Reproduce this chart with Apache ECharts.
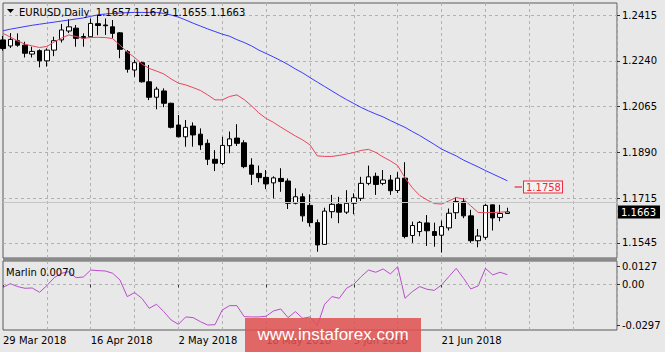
<!DOCTYPE html>
<html><head><meta charset="utf-8">
<script src="https://cdn.jsdelivr.net/npm/echarts@6/dist/echarts.min.js"></script>
<style>html,body{margin:0;padding:0;background:#e8e8e8;}#c{width:665px;height:352px;}</style>
</head><body><div id="c"></div>
<script>
const dates = ['29 Mar 2018','30 Mar 2018','2 Apr 2018','3 Apr 2018','4 Apr 2018','5 Apr 2018','6 Apr 2018','9 Apr 2018','10 Apr 2018','11 Apr 2018',
'12 Apr 2018','13 Apr 2018','16 Apr 2018','17 Apr 2018','18 Apr 2018','19 Apr 2018','20 Apr 2018','23 Apr 2018','24 Apr 2018','25 Apr 2018',
'26 Apr 2018','27 Apr 2018','30 Apr 2018','1 May 2018','2 May 2018','3 May 2018','4 May 2018','7 May 2018','8 May 2018','9 May 2018',
'10 May 2018','11 May 2018','14 May 2018','15 May 2018','16 May 2018','17 May 2018','18 May 2018','21 May 2018','22 May 2018','23 May 2018',
'24 May 2018','25 May 2018','28 May 2018','29 May 2018','30 May 2018','31 May 2018','1 Jun 2018','4 Jun 2018','5 Jun 2018','6 Jun 2018',
'7 Jun 2018','8 Jun 2018','11 Jun 2018','12 Jun 2018','13 Jun 2018','14 Jun 2018','15 Jun 2018','18 Jun 2018','19 Jun 2018','20 Jun 2018',
'21 Jun 2018','22 Jun 2018','25 Jun 2018','26 Jun 2018','27 Jun 2018','28 Jun 2018','29 Jun 2018','2 Jul 2018','3 Jul 2018','4 Jul 2018'];

const open = [1.2320,1.2297,1.2317,1.2300,1.2266,1.2279,1.2240,1.2281,1.2320,1.2354,
1.2365,1.2333,1.2332,1.2382,1.2377,1.2370,1.2347,1.2275,1.2205,1.2233,
1.2160,1.2101,1.2125,1.2078,1.1995,1.1950,1.1991,1.1960,1.1925,1.1864,
1.1848,1.1916,1.1945,1.1927,1.1842,1.1810,1.1795,1.1774,1.1791,1.1781,
1.1696,1.1721,1.1688,1.1622,1.1539,1.1664,1.1692,1.1662,1.1696,1.1715,
1.1772,1.1799,1.1772,1.1785,1.1745,1.1792,1.1573,1.1588,1.1621,1.1588,
1.1574,1.1602,1.1660,1.1702,1.1648,1.1553,1.1566,1.1690,1.1642,1.1657];
const high = [1.2335,1.2346,1.2345,1.2313,1.2294,1.2284,1.2288,1.2332,1.2381,1.2399,
1.2377,1.2345,1.2402,1.2415,1.2402,1.2396,1.2350,1.2281,1.2243,1.2237,
1.2224,1.2141,1.2135,1.2080,1.2033,1.2014,1.2005,1.1982,1.1940,1.1899,
1.1950,1.1970,1.1998,1.1937,1.1868,1.1840,1.1823,1.1799,1.1830,1.1791,
1.1753,1.1734,1.1730,1.1634,1.1679,1.1728,1.1721,1.1746,1.1734,1.1797,
1.1840,1.1813,1.1823,1.1804,1.1815,1.1853,1.1626,1.1628,1.1651,1.1622,
1.1630,1.1676,1.1719,1.1716,1.1671,1.1598,1.1693,1.1691,1.1690,1.1679];
const low = [1.2279,1.2289,1.2294,1.2253,1.2253,1.2215,1.2218,1.2258,1.2310,1.2346,
1.2294,1.2294,1.2330,1.2338,1.2339,1.2326,1.2250,1.2195,1.2179,1.2157,
1.2090,1.2055,1.2063,1.1982,1.1948,1.1912,1.1912,1.1900,1.1842,1.1819,
1.1842,1.1887,1.1915,1.1830,1.1766,1.1776,1.1750,1.1715,1.1740,1.1674,
1.1692,1.1626,1.1607,1.1511,1.1537,1.1639,1.1620,1.1655,1.1654,1.1705,
1.1765,1.1728,1.1765,1.1728,1.1735,1.1562,1.1545,1.1570,1.1533,1.1530,
1.1508,1.1592,1.1636,1.1639,1.1545,1.1528,1.1557,1.1592,1.1627,1.1655];
const close = [1.2287,1.2322,1.2300,1.2269,1.2276,1.2240,1.2281,1.2317,1.2358,1.2370,
1.2326,1.2327,1.2383,1.2375,1.2374,1.2345,1.2284,1.2208,1.2233,1.2160,
1.2101,1.2132,1.2078,1.1986,1.1950,1.1986,1.1957,1.1919,1.1864,1.1849,
1.1917,1.1942,1.1925,1.1836,1.1807,1.1794,1.1770,1.1793,1.1779,1.1696,
1.1721,1.1648,1.1622,1.1537,1.1666,1.1692,1.1662,1.1696,1.1717,1.1772,
1.1797,1.1768,1.1785,1.1744,1.1792,1.1569,1.1611,1.1623,1.1591,1.1573,
1.1607,1.1658,1.1703,1.1648,1.1553,1.1571,1.1688,1.1640,1.1657,1.1663];

const maFast = [1.2345,1.2331,1.2316,1.2304,1.2297,1.2291,1.2295,1.2312,1.2327,1.2339,
1.2333,1.2326,1.2329,1.2330,1.2329,1.2325,1.2300,1.2274,1.2253,1.2228,
1.2211,1.2201,1.2190,1.2171,1.2155,1.2148,1.2138,1.2127,1.2110,1.2091,
1.2091,1.2104,1.2110,1.2092,1.2068,1.2041,1.2020,1.2005,1.1987,1.1970,
1.1953,1.1938,1.1919,1.1877,1.1875,1.1875,1.1879,1.1884,1.1890,1.1898,
1.1902,1.1890,1.1873,1.1858,1.1840,1.1793,1.1755,1.1726,1.1709,1.1695,
1.1693,1.1705,1.1718,1.1712,1.1686,1.1661,1.1660,1.1661,1.1662,1.1664];
const maSlow = [1.2355,1.2361,1.2366,1.2371,1.2376,1.2380,1.2384,1.2388,1.2392,1.2396,
1.2400,1.2404,1.2410,1.2416,1.2419,1.2421,1.2423,1.2424,1.2425,1.2425,
1.2425,1.2425,1.2421,1.2415,1.2407,1.2396,1.2384,1.2373,1.2362,1.2352,
1.2342,1.2334,1.2321,1.2310,1.2297,1.2281,1.2268,1.2255,1.2241,1.2226,
1.2209,1.2194,1.2176,1.2159,1.2142,1.2125,1.2108,1.2092,1.2077,1.2062,
1.2049,1.2037,1.2026,1.2012,1.1999,1.1986,1.1970,1.1955,1.1938,1.1921,
1.1903,1.1890,1.1877,1.1861,1.1848,1.1835,1.1821,1.1808,1.1795,1.1782];
const marlin = [-0.0021,0.0005,-0.0016,-0.0028,-0.0026,-0.0057,-0.0009,0.0048,0.0080,0.0091,
0.0048,0.0053,0.0103,0.0099,0.0096,0.0080,0.0032,-0.0088,-0.0059,-0.0100,
-0.0172,-0.0143,-0.0196,-0.0256,-0.0287,-0.0234,-0.0239,-0.0268,-0.0292,-0.0290,
-0.0184,-0.0153,-0.0153,-0.0232,-0.0234,-0.0234,-0.0229,-0.0191,-0.0177,-0.0239,
-0.0196,-0.0244,-0.0234,-0.0297,-0.0143,-0.0088,-0.0100,-0.0028,0.0001,0.0056,
0.0103,0.0087,0.0111,0.0075,0.0127,-0.0100,-0.0052,-0.0016,-0.0035,-0.0043,
-0.0004,0.0056,0.0115,0.0044,-0.0033,-0.0011,0.0115,0.0068,0.0087,0.0070];

const priceTicks = [1.2415, 1.2240, 1.2065, 1.1890, 1.1715, 1.1545];
const marlinTicks = [0.0127, 0, -0.0297];
const lastPrice = 1.1663;
const levelPrice = 1.1758;
const titleText = 'EURUSD,Daily  1.1657 1.1679 1.1655 1.1663';
const marlinText = 'Marlin 0.0070';
const watermark = 'www.instaforex.com';
const emptySlots = 15;

const N = dates.length;
const slots = dates.concat(Array.from({length: emptySlots}, (_, i) => 'pad' + i));
const candles = dates.map((d, i) => [open[i], close[i], low[i], high[i]]);
const FONT = 'DejaVu Sans';
const gridColor = '#b2b2b2';
const vSplit = { show: true, interval: (i) => i > 0 && i % 6 === 0, lineStyle: { color: gridColor, type: [3, 3], width: 1 } };

const chart = echarts.init(document.getElementById('c'), null, { renderer: 'svg' });
chart.setOption({
  animation: false,
  backgroundColor: '#e8e8e8',
  textStyle: { fontFamily: FONT },
  grid: [
    { left: 3, right: 48, top: 3, height: 255, show: true, borderColor: '#5a5a5a', borderWidth: 1 },
    { left: 3, right: 48, top: 261, height: 69, show: true, borderColor: '#5a5a5a', borderWidth: 1 }
  ],
  xAxis: [
    { type: 'category', gridIndex: 0, data: slots, boundaryGap: false,
      axisLine: { show: false }, axisTick: { show: false }, axisLabel: { show: false }, splitLine: vSplit },
    { type: 'category', gridIndex: 1, data: slots, boundaryGap: false,
      axisLine: { show: false },
      axisTick: { show: true, interval: (i) => i < N && i % 12 === 0, length: 3, lineStyle: { color: '#333' } },
      axisLabel: { interval: (i) => i < N && i % 12 === 0, align: 'left', margin: 5, color: '#000', fontSize: 10, fontFamily: FONT },
      splitLine: vSplit }
  ],
  yAxis: [
    { type: 'value', gridIndex: 0, position: 'right', min: 1.1487, max: 1.2461, scale: true,
      axisLine: { show: false },
      axisTick: { show: true, customValues: priceTicks, length: 3, lineStyle: { color: '#333' } },
      axisLabel: { customValues: priceTicks.concat([lastPrice]), margin: 1, fontSize: 10, fontFamily: FONT,
        formatter: (v) => v === lastPrice ? '{cur|' + v.toFixed(4) + '}' : '{n|' + v.toFixed(4) + '}',
        rich: {
          n: { color: '#000', fontSize: 10, fontFamily: FONT, padding: [0, 0, 0, 4] },
          cur: { color: '#fff', backgroundColor: '#000', fontSize: 10, fontFamily: FONT, padding: [2, 4, 1, 3] }
        } },
      splitLine: { show: true, lineStyle: { color: gridColor, type: [3, 3], width: 1 } } },
    { type: 'value', gridIndex: 1, position: 'right', min: -0.0328, max: 0.0168,
      axisLine: { show: false },
      axisTick: { show: true, customValues: marlinTicks, length: 3, lineStyle: { color: '#333' } },
      axisLabel: { customValues: marlinTicks, formatter: (v) => v === 0 ? '0.00' : v.toFixed(4), margin: 5, color: '#000', fontSize: 10, fontFamily: FONT },
      splitLine: { show: false } }
  ],
  series: [
    { type: 'candlestick', xAxisIndex: 0, yAxisIndex: 0, data: candles, barWidth: 5,
      itemStyle: { color: '#ffffff', color0: '#000000', borderColor: '#000000', borderColor0: '#000000', borderWidth: 1 },
      markLine: { silent: true, symbol: ['none', 'none'], animation: false,
        data: [
          { yAxis: lastPrice, lineStyle: { color: '#c4c4c4', type: 'solid', width: 1 }, label: { show: false } },
          [ { coord: [slots[N], levelPrice], lineStyle: { color: '#f07080', width: 2, type: 'solid' },
              label: { show: true, position: 'end', distance: 2, verticalAlign: 'middle', formatter: () => levelPrice.toFixed(4), color: '#ee2a3a', backgroundColor: '#f2f2f2', borderColor: '#ee2a3a', borderWidth: 1, padding: [1, 1, 0, 2], fontSize: 10, fontFamily: FONT } },
            { coord: [slots[N + 1], levelPrice] } ]
        ] } },
    { type: 'line', xAxisIndex: 0, yAxisIndex: 0, data: maFast, symbol: 'none', lineStyle: { color: '#e8465e', width: 1 }, z: 3 },
    { type: 'line', xAxisIndex: 0, yAxisIndex: 0, data: maSlow, symbol: 'none', lineStyle: { color: '#3a3aff', width: 1 }, z: 3 },
    { type: 'line', xAxisIndex: 1, yAxisIndex: 1, data: marlin, symbol: 'none', lineStyle: { color: '#b94ccc', width: 1 },
      markLine: { silent: true, symbol: ['none', 'none'], label: { show: false },
        data: [{ yAxis: 0 }], lineStyle: { color: gridColor, type: [3, 3], width: 1 } } }
  ],
  graphic: [
    { type: 'rect', shape: { x: 3, y: 258, width: 614, height: 3 }, style: { fill: '#8a8a8a' }, z: 100 },
    { type: 'polygon', shape: { points: [[7, 9], [14, 9], [10.5, 13]] }, style: { fill: '#000' }, z: 100 },
    { type: 'text', x: 19, y: 12, style: { text: titleText, font: '10px "DejaVu Sans"', fill: '#000', verticalAlign: 'middle' }, z: 100 },
    { type: 'text', x: 6, y: 272, style: { text: marlinText, font: '10px "DejaVu Sans"', fill: '#000', verticalAlign: 'middle' }, z: 100 },
    { type: 'rect', shape: { x: 245, y: 318, width: 176, height: 34 }, style: { fill: 'rgba(224, 82, 82, 0.86)' }, z: 100 },
    { type: 'text', x: 333, y: 334, style: { text: watermark, font: '17px "Liberation Sans"', fill: '#fff', align: 'center', verticalAlign: 'middle' }, z: 101 }
  ]
});
</script></body></html>
